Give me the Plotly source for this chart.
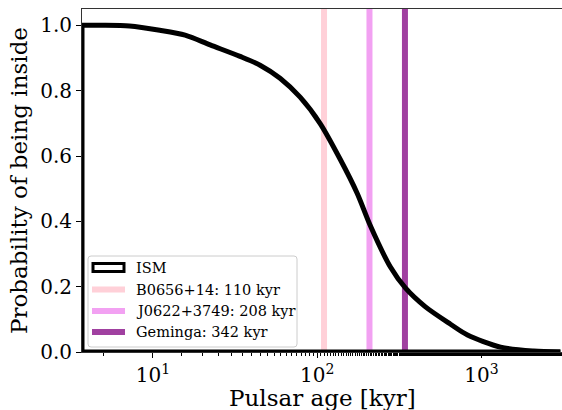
import numpy as np
import plotly.graph_objects as go

# Cumulative probability of a pulsar still being inside the ISM region vs age
ages_kyr = [3.7, 4.8, 7.2, 11, 15.7, 22.3, 33.9, 44.9, 59.4, 78.7, 104, 138,
            175, 210, 279, 344, 456, 648, 822, 1306, 2075, 3020]
prob_inside = [1.0, 1.0, 0.998, 0.985, 0.97, 0.94, 0.905, 0.878, 0.838, 0.78,
               0.70, 0.59, 0.486, 0.388, 0.26, 0.196, 0.138, 0.085, 0.052,
               0.015, 0.003, 0.0]

# Pulsars marked with vertical lines
pulsar_names = ["B0656+14", "J0622+3749", "Geminga"]
pulsar_ages = [110, 208, 342]
pulsar_colors = ["rgba(255,192,203,0.75)", "rgba(238,130,238,0.75)",
                 "rgba(128,0,128,0.75)"]

y_max = 1.05
font_family = "DejaVu Serif, serif"
title_size = 23

fig = go.Figure()

for name, age, col in zip(pulsar_names, pulsar_ages, pulsar_colors):
    fig.add_trace(go.Scatter(
        x=[age, age], y=[0, y_max], mode="lines",
        line=dict(color=col, width=6), showlegend=False,
        name=f"{name}: {age} kyr",
    ))

# Step-histogram outline: closing edges along the bottom and up the left side
fig.add_trace(go.Scatter(
    x=[ages_kyr[-1], ages_kyr[0], ages_kyr[0]],
    y=[0, 0, prob_inside[0]],
    mode="lines", line=dict(color="black", width=5), showlegend=False,
))
# Cumulative curve itself
fig.add_trace(go.Scatter(
    x=ages_kyr, y=prob_inside, mode="lines",
    line=dict(color="black", width=5, shape="spline", smoothing=0.8),
    showlegend=False, name="ISM",
))

x_lo = np.log10(ages_kyr[0])
x_hi = 3.49

# Plot-area geometry in pixels, used to place the hand-built legend
L, R, T, B = 82, 562, 9, 352


def px(xpix):
    return (xpix - L) / (R - L)


def py(ypix):
    return (B - ypix) / (B - T)


shapes = []
annotations = []

# Legend frame with slightly rounded corners
x0f, x1f, y0f, y1f, r = px(88), px(297), py(347), py(256), 3
rx, ry = r / (R - L), r / (B - T)
frame_path = (
    f"M {x0f + rx},{y0f} L {x1f - rx},{y0f} Q {x1f},{y0f} {x1f},{y0f + ry} "
    f"L {x1f},{y1f - ry} Q {x1f},{y1f} {x1f - rx},{y1f} "
    f"L {x0f + rx},{y1f} Q {x0f},{y1f} {x0f},{y1f - ry} "
    f"L {x0f},{y0f + ry} Q {x0f},{y0f} {x0f + rx},{y0f} Z"
)
shapes.append(dict(type="path", xref="paper", yref="paper", path=frame_path,
                   line=dict(color="#cccccc", width=1),
                   fillcolor="rgba(255,255,255,0.8)", layer="above"))

legend_rows = [267.5, 289.5, 311, 332]
legend_labels = ["ISM"] + [f"{n}: {a} kyr" for n, a in zip(pulsar_names, pulsar_ages)]

# ISM entry: open box
shapes.append(dict(type="rect", xref="paper", yref="paper",
                   x0=px(93), x1=px(124), y0=py(legend_rows[0] + 4),
                   y1=py(legend_rows[0] - 4),
                   line=dict(color="black", width=3),
                   fillcolor="rgba(0,0,0,0)", layer="above"))
# Pulsar entries: thick line samples
for yr, col in zip(legend_rows[1:], pulsar_colors):
    shapes.append(dict(type="line", xref="paper", yref="paper",
                       x0=px(92), x1=px(125), y0=py(yr), y1=py(yr),
                       line=dict(color=col, width=6), layer="above"))

for yr, lab in zip(legend_rows, legend_labels):
    annotations.append(dict(xref="paper", yref="paper", x=px(134), y=py(yr),
                            xanchor="left", yanchor="middle", text=lab,
                            showarrow=False,
                            font=dict(family=font_family, size=14.5, color="black")))

# x-axis title sits low, close to the bottom edge of the figure
annotations.append(dict(xref="paper", yref="paper", x=0.5, y=py(398),
                        xanchor="center", yanchor="middle",
                        text="Pulsar age [kyr]", showarrow=False,
                        font=dict(family=font_family, size=title_size, color="black")))

fig.update_layout(
    width=562, height=410,
    margin=dict(l=L, r=562 - R, t=T, b=410 - B, autoexpand=False),
    plot_bgcolor="white", paper_bgcolor="white",
    font=dict(family=font_family, size=19, color="black"),
    showlegend=False,
    shapes=shapes,
    annotations=annotations,
    xaxis=dict(
        type="log", range=[x_lo, x_hi],
        tickvals=[10, 100, 1000],
        ticktext=["10<sup>1</sup>", "10<sup>2</sup>", "10<sup>3</sup>"],
        tickfont=dict(size=20),
        ticks="outside", ticklen=5, tickwidth=1, tickcolor="black",
        minor=dict(ticks="outside", ticklen=3, tickcolor="black", showgrid=False),
        showgrid=False, zeroline=False, automargin=False,
        showline=True, linecolor="#333333", linewidth=1, mirror=True,
    ),
    yaxis=dict(
        range=[0, y_max],
        tickvals=[0, 0.2, 0.4, 0.6, 0.8, 1.0],
        ticktext=["0.0", "0.2", "0.4", "0.6", "0.8", "1.0"],
        tickfont=dict(size=20),
        ticks="outside", ticklen=5, tickwidth=1, tickcolor="black",
        showgrid=False, zeroline=False, automargin=False,
        showline=True, linecolor="#333333", linewidth=1, mirror=True,
        title=dict(text="Probability of being inside", standoff=6,
                   font=dict(size=title_size)),
    ),
)

fig.write_html("out.html")
